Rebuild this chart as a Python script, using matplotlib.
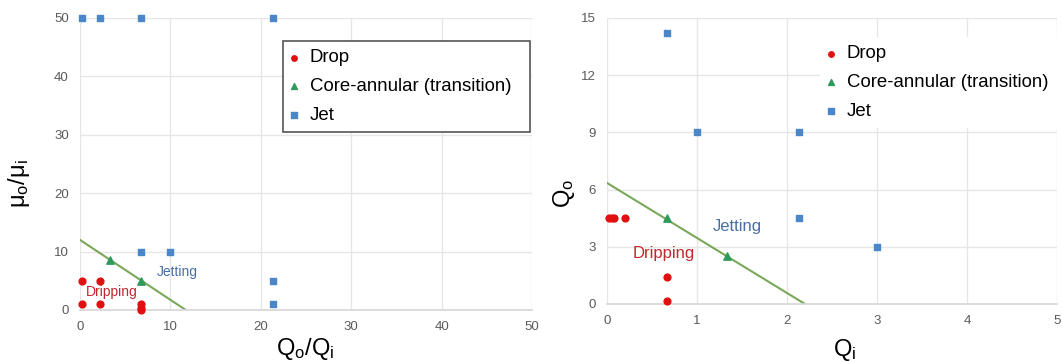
import matplotlib.pyplot as plt

plt.rcParams['font.family'] = ['Liberation Sans', 'DejaVu Sans']
plt.rcParams['mathtext.default'] = 'regular'

# left panel: Q_o/Q_i vs mu_o/mu_i
ratio_drop_x = [0.2, 2.2, 0.2, 2.2, 6.7, 6.7, 6.7]
ratio_drop_y = [5, 5, 1, 1, 1, 0.4, 0]
ratio_core_x = [3.3, 6.7]
ratio_core_y = [8.6, 5]
ratio_jet_x = [0.2, 2.2, 6.7, 21.3, 6.7, 10, 21.3, 21.3]
ratio_jet_y = [50, 50, 50, 50, 10, 10, 5, 1]
ratio_line_x = [0, 11.7]
ratio_line_y = [12, 0]

# right panel: Q_i vs Q_o
flow_drop_x = [0.02, 0.05, 0.08, 0.2, 0.67, 0.67]
flow_drop_y = [4.5, 4.5, 4.5, 4.5, 1.4, 0.15]
flow_core_x = [0.67, 1.33]
flow_core_y = [4.5, 2.5]
flow_jet_x = [0.67, 1.0, 2.13, 2.13, 3.0]
flow_jet_y = [14.2, 9, 9, 4.5, 3]
flow_line_x = [0, 2.2]
flow_line_y = [6.35, 0]

red = '#e01010'
green = '#2e9a5c'
blue = '#4a86c8'
linecol = '#7aa85a'
gridcol = '#e6e6e6'
tickcol = '#5a5a5a'

fig = plt.figure(figsize=(10.62, 3.62), dpi=100)
ax1 = fig.add_axes([80/1062, 1-310/362, 452/1062, 292/362])
ax2 = fig.add_axes([607/1062, 1-304/362, 450/1062, 286/362])


def style(ax, xticks, yticks):
    ax.set_xlim(xticks[0], xticks[-1])
    ax.set_ylim(yticks[0], yticks[-1])
    ax.set_xticks(xticks)
    ax.set_yticks(yticks)
    ax.grid(True, color=gridcol, linewidth=1)
    ax.set_axisbelow(True)
    for s in ['top', 'right', 'left']:
        ax.spines[s].set_visible(False)
    ax.spines['bottom'].set_color('#d6d6d6')
    ax.spines['bottom'].set_linewidth(1.2)
    ax.tick_params(length=0, labelsize=9.5, colors=tickcol, pad=8)


def draw(ax, dx, dy, cx, cy, jx, jy, lx, ly):
    ax.plot(lx, ly, color=linecol, linewidth=1.5, zorder=2)
    ax.scatter(dx, dy, marker='o', s=24, color=red, label='Drop', zorder=3, clip_on=False)
    ax.scatter(cx, cy, marker='^', s=28, color=green, label='Core-annular (transition)', zorder=3)
    ax.scatter(jx, jy, marker='s', s=24, color=blue, label='Jet', zorder=3, clip_on=False)


def legend(ax, box, frame):
    leg = ax.legend(loc='upper left', bbox_to_anchor=box, mode='expand',
                    bbox_transform=fig.transFigure, fontsize=13.4, frameon=True,
                    fancybox=False, handlelength=0.3, handletextpad=0.7,
                    labelspacing=0.62, borderpad=0.45, borderaxespad=0,
                    markerscale=0.8)
    fr = leg.get_frame()
    fr.set_facecolor('white')
    fr.set_alpha(1)
    if frame:
        fr.set_edgecolor('#555555')
        fr.set_linewidth(1.2)
    else:
        fr.set_edgecolor('none')
    return leg


draw(ax1, ratio_drop_x, ratio_drop_y, ratio_core_x, ratio_core_y,
     ratio_jet_x, ratio_jet_y, ratio_line_x, ratio_line_y)
style(ax1, [0, 10, 20, 30, 40, 50], [0, 10, 20, 30, 40, 50])
ax1.text(0.66, 3.1, 'Dripping', color='#c0282d', fontsize=10, va='center')
ax1.text(8.5, 6.5, 'Jetting', color='#4a6fa5', fontsize=10, va='center')
ax1.set_xlabel('$Q_o/Q_i$', fontsize=17)
ax1.set_ylabel('$μ_o/μ_i$', fontsize=17)
ax1.xaxis.set_label_coords(0.497, -0.09)
ax1.yaxis.set_label_coords(-0.106, 0.432)
legend(ax1, (283/1062, 1-41/362, 247/1062, 0), True)

draw(ax2, flow_drop_x, flow_drop_y, flow_core_x, flow_core_y,
     flow_jet_x, flow_jet_y, flow_line_x, flow_line_y)
style(ax2, [0, 1, 2, 3, 4, 5], [0, 3, 6, 9, 12, 15])
ax2.text(0.29, 2.67, 'Dripping', color='#c0282d', fontsize=12, va='center')
ax2.text(1.18, 4.09, 'Jetting', color='#4a6fa5', fontsize=12, va='center')
ax2.set_xlabel('$Q_i$', fontsize=17)
ax2.set_ylabel('$Q_o$', fontsize=17)
ax2.xaxis.set_label_coords(0.529, -0.115)
ax2.yaxis.set_label_coords(-0.067, 0.385)
legend(ax2, (820/1062, 1-37/362, 242/1062, 0), False)

fig.savefig('out.png', dpi=100)
